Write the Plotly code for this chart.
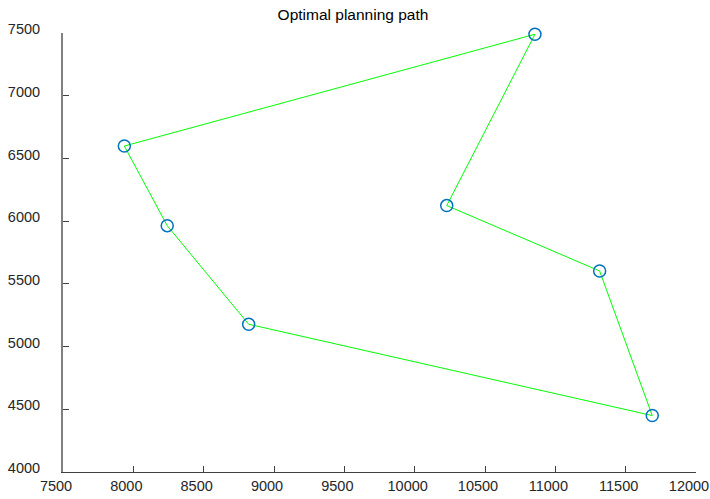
import plotly.graph_objects as go

# Path order (closed loop)
x_vals = [7936, 8241, 8820, 11689, 11315, 10228, 10855, 7936]
y_vals = [6599, 5964, 5178, 4450, 5603, 6124, 7490, 6599]

x_ticks = [7500, 8000, 8500, 9000, 9500, 10000, 10500, 11000, 11500, 12000]
y_ticks = [4000, 4500, 5000, 5500, 6000, 6500, 7000, 7500]

title_text = "Optimal planning path"

fig = go.Figure()
fig.add_trace(go.Scatter(
    x=x_vals, y=y_vals, mode="lines",
    line=dict(color="#00FF00", width=1),
    hoverinfo="skip", showlegend=False, cliponaxis=False,
))
fig.add_trace(go.Scatter(
    x=x_vals[:-1], y=y_vals[:-1], mode="markers",
    marker=dict(symbol="circle-open", size=12, color="#0072BD",
                line=dict(width=1.5, color="#0072BD")),
    showlegend=False, cliponaxis=False,
))

font = dict(family="Liberation Sans, Arial, sans-serif", size=14.5, color="#262626")
fig.update_layout(
    width=710, height=499,
    margin=dict(l=63, r=14, t=33, b=27, autoexpand=False),
    paper_bgcolor="white", plot_bgcolor="white",
    font=font,
    title=dict(text=title_text, x=353 / 710, xanchor="center",
               y=1 - 15 / 499, yanchor="middle",
               font=dict(family="Liberation Sans, Arial, sans-serif", size=15.5, color="#000000")),
    xaxis=dict(range=[7500, 12000], tickvals=x_ticks, ticktext=[str(v) for v in x_ticks],
               showgrid=False, zeroline=False, showline=True, linecolor="#404040",
               linewidth=1, ticks="inside", ticklen=6, tickcolor="#404040",
               mirror=False, ticklabelstandoff=1, ticklabelshift=-7, automargin=False,
               ticklabeloverflow="allow"),
    yaxis=dict(range=[4000, 7500], tickvals=y_ticks, ticktext=[str(v) for v in y_ticks],
               showgrid=False, zeroline=False, showline=True, linecolor="#808080",
               linewidth=2, ticks="inside", ticklen=6, tickcolor="#404040",
               mirror=False, ticklabelstandoff=18, ticklabelshift=-4, automargin=False,
               ticklabeloverflow="allow"),
)

fig.write_html("out.html")
